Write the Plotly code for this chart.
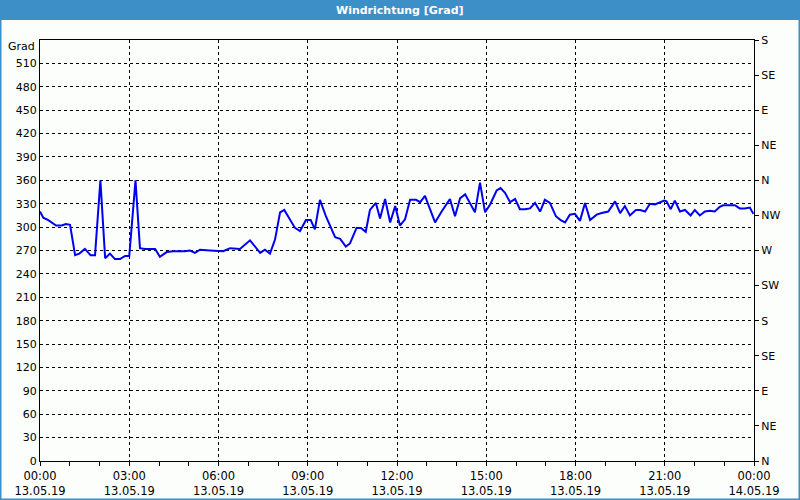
import pandas as pd
import plotly.graph_objects as go

# ---- data ----
hours = [0.0, 0.11, 0.28, 0.54, 0.73, 0.87, 1.01, 1.18, 1.32, 1.51, 1.70, 1.85,
         2.03, 2.19, 2.35, 2.52, 2.69, 2.86, 3.00, 3.21, 3.36, 3.53, 3.87, 4.03,
         4.26, 4.48, 4.87, 5.04, 5.21, 5.38, 5.71, 6.16, 6.39, 6.72, 7.06, 7.40,
         7.56, 7.73, 7.90, 8.07, 8.21, 8.40, 8.57, 8.74, 8.94, 9.10, 9.24, 9.41,
         9.62, 9.92, 10.09, 10.28, 10.42, 10.64, 10.79, 10.95, 11.09, 11.29, 11.43,
         11.60, 11.77, 11.94, 12.10, 12.27, 12.44, 12.64, 12.78, 12.94, 13.11,
         13.28, 13.50, 13.78, 13.95, 14.12, 14.29, 14.62, 14.79, 14.96, 15.13,
         15.35, 15.48, 15.63, 15.80, 15.97, 16.13, 16.30, 16.47, 16.64, 16.81,
         16.97, 17.14, 17.34, 17.50, 17.65, 17.81, 17.98, 18.15, 18.32, 18.49,
         18.71, 18.88, 19.10, 19.33, 19.50, 19.66, 19.83, 20.03, 20.17, 20.34,
         20.50, 20.67, 20.84, 20.98, 21.06, 21.20, 21.34, 21.51, 21.68, 21.87,
         22.01, 22.18, 22.35, 22.52, 22.68, 22.85, 22.96, 23.19, 23.36, 23.52,
         23.69, 23.86, 23.98]
grad = [320, 312, 309, 302, 302, 304, 303, 264, 266, 272, 264, 264,
        360, 260, 266, 259, 259, 263, 263, 360, 273, 272, 272, 262,
        268, 269, 269, 270, 267, 271, 270, 269, 273, 272, 283, 267,
        271, 266, 284, 319, 322, 310, 299, 295, 309, 309, 297, 335,
        313, 287, 285, 275, 279, 299, 299, 294, 322, 331, 311,
        336, 306, 327, 302, 310, 335, 335, 332, 340, 322,
        306, 320, 336, 314, 337, 342, 319, 357, 319, 329,
        347, 350, 344, 332, 336, 323, 323, 324, 331, 320,
        335, 331, 314, 309, 306, 316, 317, 308, 331, 309,
        316, 318, 320, 333, 318, 327, 315, 322, 322, 320,
        330, 329, 332, 334, 333, 323, 334, 320, 322, 315,
        322, 315, 320, 321, 320, 326, 328, 328, 328, 324,
        324, 325, 317]

left_ticks = list(range(0, 541, 30))
right_ticks = list(range(0, 541, 45))
right_labels = ["N", "NE", "E", "SE", "S", "SW", "W", "NW", "N", "NE", "E", "SE", "S"]
x_tick_hours = [0, 3, 6, 9, 12, 15, 18, 21, 24]

base = pd.Timestamp("2019-05-13 00:00")
x = [base + pd.Timedelta(hours=h) for h in hours]
xt = [base + pd.Timedelta(hours=h) for h in x_tick_hours]
xt_text = [f"{t:%H:%M}<br>{t:%d.%m.%y}" for t in xt]

FONT = "DejaVu Sans"
W, H = 800, 500
L, R, T, B = 40, 754, 40, 461


def px(xp):
    return (xp - L) / (R - L)


def py(yp):
    return (B - yp) / (B - T)


fig = go.Figure()
fig.add_trace(go.Scatter(x=x, y=grad, mode="lines",
                         line=dict(color="#0000f0", width=2), showlegend=False,
                         hoverinfo="skip"))
# invisible trace to activate right axis
fig.add_trace(go.Scatter(x=[xt[0]], y=[0], yaxis="y2", mode="markers",
                         marker=dict(opacity=0), showlegend=False, hoverinfo="skip"))

fig.update_layout(
    width=W, height=H, autosize=False,
    margin=dict(l=L, r=W - R, t=T, b=H - B, autoexpand=False),
    paper_bgcolor="#fcfefc", plot_bgcolor="#fcfefc",
    font=dict(family=FONT, size=11, color="#000000"),
    xaxis=dict(
        range=[xt[0], xt[-1]], tickvals=xt, ticktext=xt_text, automargin=False,
        showgrid=True, gridcolor="#000000", griddash="3px,3px", gridwidth=1,
        showline=True, linecolor="#000000", linewidth=1, mirror=True,
        ticks="outside", ticklen=4, tickcolor="#000000",
        minor=dict(dtick=3600000, ticks="outside", ticklen=4, tickcolor="#000000",
                   showgrid=False),
        zeroline=False, tickfont=dict(size=11.5),
    ),
    yaxis=dict(
        range=[0, 540], tickvals=left_ticks[:-1], ticktext=[str(v) for v in left_ticks[:-1]],
        automargin=False,
        showgrid=True, gridcolor="#000000", griddash="3px,3px", gridwidth=1,
        showline=True, linecolor="#000000", linewidth=1, mirror=True,
        ticks="", zeroline=False, tickfont=dict(size=11),
    ),
    yaxis2=dict(
        range=[0, 540], overlaying="y", side="right", automargin=False,
        tickvals=right_ticks, ticktext=right_labels,
        showgrid=False, zeroline=False, showline=False,
        ticks="outside", ticklen=4, tickcolor="#000000", tickfont=dict(size=11),
    ),
    shapes=[
        dict(type="rect", xref="paper", yref="paper",
             x0=px(0), x1=px(W), y0=py(20), y1=py(0),
             fillcolor="#3d8fc7", line=dict(width=0), layer="above"),
        dict(type="rect", xref="paper", yref="paper",
             x0=px(0), x1=px(1.5), y0=py(H), y1=py(0),
             fillcolor="#3d8fc7", line=dict(width=0), layer="above"),
        dict(type="rect", xref="paper", yref="paper",
             x0=px(W - 1.5), x1=px(W), y0=py(H), y1=py(0),
             fillcolor="#3d8fc7", line=dict(width=0), layer="above"),
        dict(type="rect", xref="paper", yref="paper",
             x0=px(0), x1=px(W), y0=py(H), y1=py(H - 1.5),
             fillcolor="#3d8fc7", line=dict(width=0), layer="above"),
    ],
    annotations=[
        dict(text="<b>Windrichtung [Grad]</b>", xref="paper", yref="paper",
             x=px(400), y=py(10.5), showarrow=False, xanchor="center", yanchor="middle",
             font=dict(family=FONT, size=11, color="#ffffff")),
        dict(text="Grad", xref="paper", yref="paper",
             x=px(37), y=py(46), showarrow=False, xanchor="right", yanchor="middle",
             font=dict(family=FONT, size=11, color="#000000")),
    ],
)

fig.write_html("out.html")
